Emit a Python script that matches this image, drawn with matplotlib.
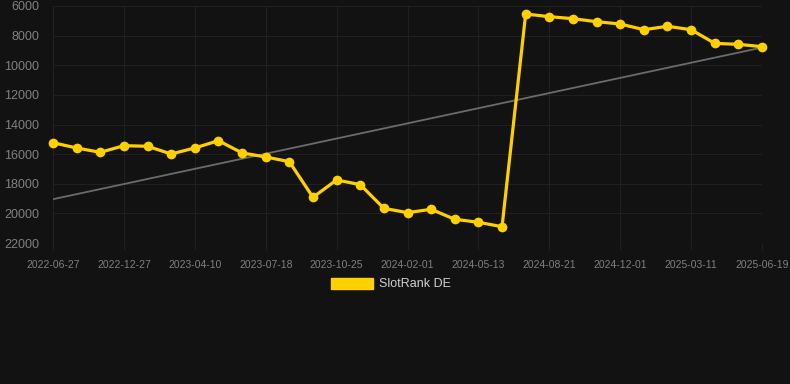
import matplotlib
matplotlib.use("Agg")
import matplotlib.pyplot as plt
from matplotlib.patches import Patch
import numpy as np

# Data (31 samples; tick label every 3rd point)
rank_values = [15230, 15585, 15880, 15430, 15470, 15990, 15585, 15090, 15920, 16190,
               16510, 18915, 17745, 18060, 19660, 19950, 19725, 20400, 20600, 20900,
               6540, 6720, 6855, 7060, 7215, 7600, 7370, 7600, 8520, 8590, 8745]
tick_labels = ["2022-06-27", "2022-12-27", "2023-04-10", "2023-07-18", "2023-10-25",
               "2024-02-01", "2024-05-13", "2024-08-21", "2024-12-01", "2025-03-11",
               "2025-06-19"]
y_ticks = [6000, 8000, 10000, 12000, 14000, 16000, 18000, 20000, 22000]
series_name = "SlotRank DE"

BG = "#121212"
GRID = "#202020"
YELLOW = "#FFD000"
TICKC = "#808080"

plt.rcParams['font.family'] = ['Liberation Sans', 'DejaVu Sans']

W, H = 790, 384
fig = plt.figure(figsize=(W / 100, H / 100), dpi=100, facecolor=BG)
ax = fig.add_axes([53 / W, (H - 243) / H, (762 - 53) / W, (243 - 6) / H])
ax.set_facecolor(BG)

x = np.arange(len(rank_values))
y = np.array(rank_values, dtype=float)

# trend line (linear regression)
coef = np.polyfit(x, y, 1)
ax.plot([x[0], x[-1]], np.polyval(coef, [x[0], x[-1]]), color="#6b6b6b", lw=1.3, zorder=2)

ax.plot(x, y, color=YELLOW, lw=2.3, marker="o", markersize=7, markeredgewidth=0,
        zorder=3, clip_on=False)

ax.set_xlim(x[0], x[-1])
ax.set_ylim(22000, 6000)
ax.set_yticks(y_ticks)
ax.set_yticklabels([str(v) for v in y_ticks])
tick_pos = x[::3]
ax.set_xticks(tick_pos)
ax.set_xticklabels(tick_labels)

ax.grid(True, color=GRID, lw=0.8)
ax.set_axisbelow(True)
for s in ax.spines.values():
    s.set_visible(False)
ax.tick_params(axis='x', colors=GRID, labelcolor=TICKC, labelsize=7.5, length=5, pad=7)
ax.tick_params(axis='y', colors=GRID, labelcolor=TICKC, labelsize=9, length=0, pad=10)

leg = fig.legend(handles=[Patch(facecolor=YELLOW, edgecolor=YELLOW, label=series_name)],
                 loc="center", bbox_to_anchor=(391 / W, (H - 284) / H), frameon=False,
                 fontsize=9, handlelength=3.4, handleheight=1.0, handletextpad=0.5,
                 labelcolor="#d0d0d0")

fig.savefig("out.png", dpi=100, facecolor=BG)
